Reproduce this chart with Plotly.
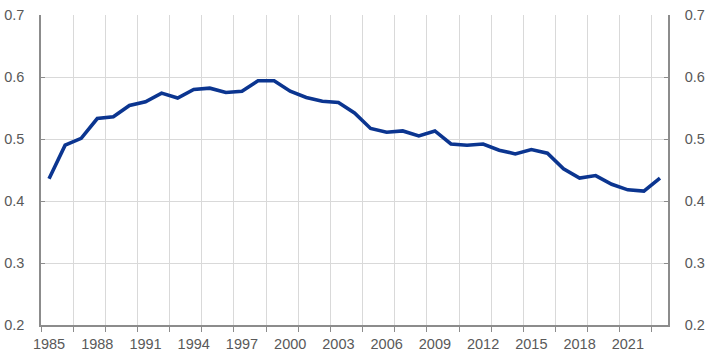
import plotly.graph_objects as go

years = list(range(1985, 2024))
values = [0.436, 0.490, 0.501, 0.533, 0.536, 0.554, 0.560, 0.574, 0.566, 0.580,
          0.582, 0.575, 0.577, 0.594, 0.594, 0.577, 0.567, 0.561, 0.559, 0.542,
          0.517, 0.511, 0.513, 0.505, 0.513, 0.492, 0.490, 0.492, 0.482, 0.476,
          0.483, 0.477, 0.452, 0.437, 0.441, 0.427, 0.418, 0.416, 0.437]
tick_years = list(range(1985, 2022, 3))
grid_bounds = [1984.5 + 2 * k for k in range(20)]
y_ticks = [0.2, 0.3, 0.4, 0.5, 0.6, 0.7]

axis_col = "#8c8c8c"
grid_col = "#d9d9d9"
text_col = "#595959"
font = dict(family="Liberation Sans, Arial, sans-serif", size=14.5, color=text_col)

fig = go.Figure()
fig.add_trace(go.Scatter(x=years, y=values, mode="lines",
                         line=dict(color="#0b3590", width=3.6), showlegend=False))
fig.add_trace(go.Scatter(x=years, y=values, mode="lines", yaxis="y2",
                         line=dict(color="rgba(0,0,0,0)", width=0), showlegend=False,
                         hoverinfo="skip"))

fig.update_layout(
    width=709, height=357,
    margin=dict(l=41, r=41, t=15, b=32, autoexpand=False),
    paper_bgcolor="white", plot_bgcolor="white",
    font=font,
    xaxis=dict(
        range=[1984.5, 2023.5], tickmode="array", tickvals=tick_years,
        ticktext=[str(y) for y in tick_years], ticks="", showgrid=False,
        showline=True, linecolor=axis_col, linewidth=1.5, zeroline=False,
        tickfont=font, automargin=False, ticklabelstandoff=5,
        minor=dict(tickmode="array", tickvals=grid_bounds, ticks="outside",
                   ticklen=5, tickcolor=axis_col, tickwidth=1,
                   showgrid=True, gridcolor=grid_col, gridwidth=1),
    ),
    yaxis=dict(
        range=[0.2, 0.7], tickmode="array", tickvals=y_ticks, tickformat=".1f",
        ticks="inside", ticklen=4, tickcolor=axis_col, showgrid=True,
        gridcolor=grid_col, gridwidth=1, showline=True, linecolor=axis_col,
        linewidth=1.5, zeroline=False, tickfont=font, ticklabelstandoff=12,
        automargin=False,
    ),
    yaxis2=dict(
        range=[0.2, 0.7], tickmode="array", tickvals=y_ticks, tickformat=".1f",
        overlaying="y", side="right", ticks="inside", ticklen=4,
        tickcolor=axis_col, showgrid=False, showline=True, linecolor=axis_col,
        linewidth=1.5, zeroline=False, tickfont=font, ticklabelstandoff=12,
        automargin=False,
    ),
)

fig.write_html("out.html", config={"displayModeBar": False},
               post_script="document.body.style.margin='0';document.body.style.overflow='hidden';")
